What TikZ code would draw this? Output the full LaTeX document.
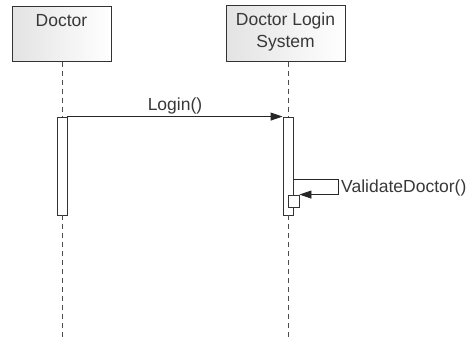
\documentclass[tikz,border=0pt]{standalone}
\usepackage{fontspec}
\setmainfont{Liberation Sans}
\usetikzlibrary{arrows.meta}
\begin{document}
\begin{tikzpicture}[x=1pt,y=-1pt,
  every node/.style={font=\fontsize{17.5pt}{22pt}\selectfont, text=black!78, inner sep=0pt},
  objbox/.style={draw=black!80, line width=1pt, rectangle,
    left color=gray!22, right color=white},
  actbar/.style={draw=black!80, line width=0.9pt, fill=white, rectangle},
  lifeline/.style={draw=black!70, line width=0.9pt, dash pattern=on 5pt off 4pt},
  msg/.style={draw=black!85, line width=0.9pt, -{Triangle[length=12pt,width=8pt]}}]
\useasboundingbox (0,0) rectangle (476,343);

% participant heads
\node[objbox, minimum width=99pt, minimum height=55pt] (doctor) at (61.5,33.5) {};
\node[objbox, minimum width=119pt, minimum height=56pt] (dls) at (285.5,33) {};
\node[anchor=base] (doctorLbl) at (61.5,26) {Doctor};
% the base of a two-line node is the baseline of its last line
\node[anchor=base, align=center] (dlsLbl) at (285.5,47) {Doctor Login\\System};

% activation bars
\node[actbar, minimum width=10pt, minimum height=98pt] (docAct) at (62,166) {};
\node[actbar, minimum width=10pt, minimum height=98pt] (dlsAct) at (288,166) {};

% lifelines
\coordinate (docEnd) at (62,338);
\coordinate (dlsEnd) at (288,338);
\draw[lifeline] (doctor.south -| docAct) -- (docAct.north);
\draw[lifeline] (docAct.south) -- (docEnd);
\draw[lifeline] (dls.south -| dlsAct) -- (dlsAct.north);
\draw[lifeline] (dlsAct.south) -- (dlsEnd);

% nested activation for the self call
\node[actbar, minimum width=11pt, minimum height=12pt] (selfAct) at (293.5,201) {};

% messages
\draw[msg] (docAct.north east) -- (dlsAct.north west);
\node[anchor=base] (loginLbl) at (175,110) {Login()};

\coordinate (loopR) at (338,179);
\draw[msg] (dlsAct.east |- loopR) -- (loopR) |- (selfAct.north east);
\node[anchor=base west] (validateLbl) at (341,192) {ValidateDoctor()};
\end{tikzpicture}
\end{document}
